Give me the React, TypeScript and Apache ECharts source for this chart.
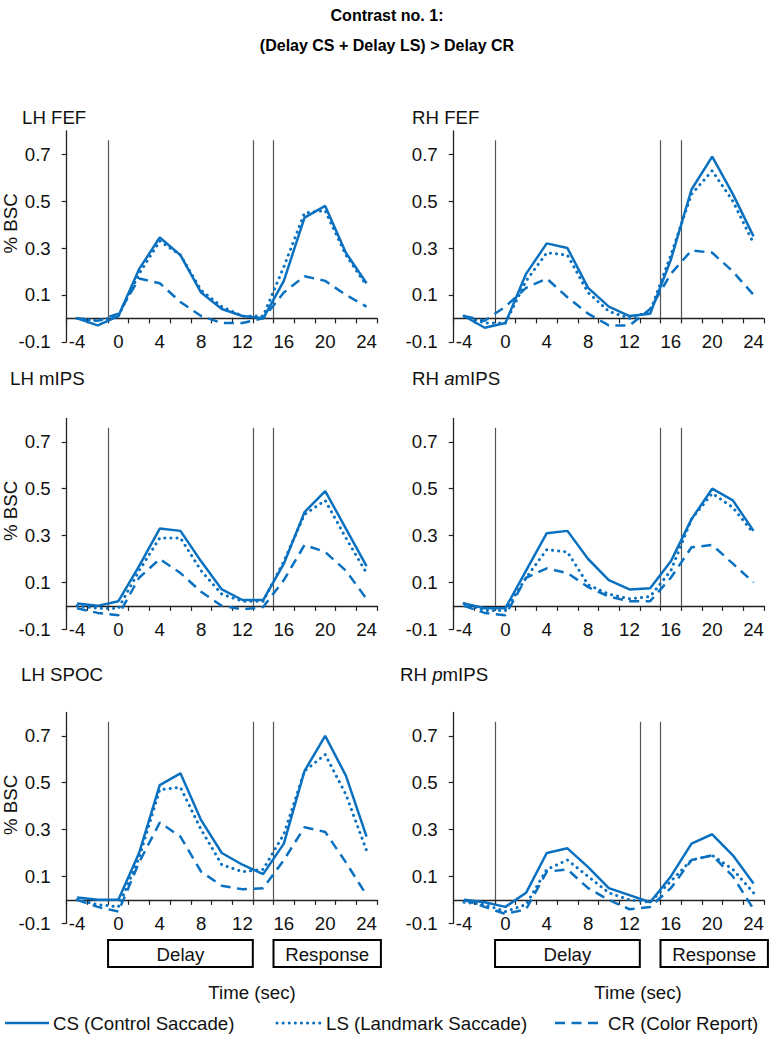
import React, { useEffect, useRef } from "react";
import * as echarts from "echarts";

// ---- data ----
const times = [-4, -2, 0, 2, 4, 6, 8, 10, 12, 14, 16, 18, 20, 22, 24];
const xTickValues = [-5, -3, -1, 1, 3, 5, 7, 9, 11, 13, 15, 17, 19, 21, 23, 25];
const xLabelValues = [-4, 0, 4, 8, 12, 16, 20, 24];
const yLabelValues = [-0.1, 0.1, 0.3, 0.5, 0.7];

const lhFefCS = [0.0, -0.03, 0.01, 0.21, 0.345, 0.27, 0.11, 0.04, 0.01, 0.0, 0.16, 0.43, 0.48, 0.28, 0.15];
const lhFefLS = [0.0, -0.01, 0.01, 0.19, 0.33, 0.27, 0.12, 0.05, 0.01, 0.01, 0.22, 0.45, 0.46, 0.27, 0.14];
const lhFefCR = [0.0, -0.01, 0.02, 0.17, 0.15, 0.07, 0.01, -0.02, -0.02, 0.0, 0.11, 0.18, 0.16, 0.1, 0.05];

const rhFefCS = [0.01, -0.04, -0.02, 0.19, 0.32, 0.3, 0.13, 0.05, 0.01, 0.02, 0.25, 0.55, 0.69, 0.53, 0.35];
const rhFefLS = [0.01, -0.02, -0.02, 0.16, 0.28, 0.27, 0.11, 0.03, 0.0, 0.03, 0.27, 0.53, 0.63, 0.5, 0.32];
const rhFefCR = [0.01, -0.01, 0.05, 0.13, 0.17, 0.09, 0.02, -0.03, -0.03, 0.04, 0.19, 0.29, 0.28, 0.2, 0.1];

const lhMipsCS = [0.01, 0.0, 0.02, 0.17, 0.33, 0.32, 0.19, 0.07, 0.025, 0.025, 0.18, 0.4, 0.49, 0.33, 0.17];
const lhMipsLS = [0.0, -0.01, -0.01, 0.15, 0.29, 0.29, 0.15, 0.05, 0.02, 0.02, 0.19, 0.39, 0.45, 0.29, 0.14];
const lhMipsCR = [-0.01, -0.03, -0.04, 0.12, 0.2, 0.14, 0.06, 0.0, -0.015, -0.005, 0.11, 0.26, 0.23, 0.15, 0.03];

const rhAmipsCS = [0.01, -0.01, -0.01, 0.15, 0.31, 0.32, 0.2, 0.11, 0.07, 0.075, 0.19, 0.37, 0.5, 0.45, 0.32];
const rhAmipsLS = [0.01, -0.02, -0.02, 0.12, 0.24, 0.23, 0.09, 0.05, 0.03, 0.04, 0.15, 0.37, 0.48, 0.42, 0.31];
const rhAmipsCR = [0.0, -0.03, -0.04, 0.12, 0.16, 0.14, 0.08, 0.04, 0.02, 0.02, 0.12, 0.25, 0.26, 0.18, 0.1];

const lhSpocCS = [0.01, 0.0, 0.0, 0.2, 0.49, 0.54, 0.34, 0.2, 0.15, 0.11, 0.24, 0.55, 0.7, 0.53, 0.27];
const lhSpocLS = [0.0, -0.02, -0.03, 0.18, 0.47, 0.48, 0.3, 0.15, 0.12, 0.13, 0.28, 0.55, 0.62, 0.45, 0.21];
const lhSpocCR = [0.0, -0.03, -0.05, 0.16, 0.33, 0.27, 0.12, 0.06, 0.045, 0.05, 0.17, 0.31, 0.29, 0.16, 0.02];

const rhPmipsCS = [0.0, -0.01, -0.03, 0.03, 0.2, 0.22, 0.14, 0.05, 0.02, -0.01, 0.1, 0.24, 0.28, 0.19, 0.07];
const rhPmipsLS = [-0.01, -0.02, -0.05, -0.02, 0.13, 0.17, 0.1, 0.03, 0.0, -0.01, 0.08, 0.17, 0.19, 0.13, 0.03];
const rhPmipsCR = [0.0, -0.03, -0.06, -0.04, 0.12, 0.13, 0.05, 0.0, -0.04, -0.03, 0.05, 0.17, 0.19, 0.1, -0.04];

const markersA = [-1, 13, 15];
const markersB = [-1, 15, 17];
const markerTop = 0.76;

const panelTitles = ["LH FEF", "RH FEF", "LH mIPS", "RH {i|a}mIPS", "LH SPOC", "RH {i|p}mIPS"];
const seriesNames = ["CS (Control Saccade)", "LS (Landmark Saccade)", "CR (Color Report)"];

const panels = [
  { cs: lhFefCS, ls: lhFefLS, cr: lhFefCR, marks: markersA },
  { cs: rhFefCS, ls: rhFefLS, cr: rhFefCR, marks: markersB },
  { cs: lhMipsCS, ls: lhMipsLS, cr: lhMipsCR, marks: markersA },
  { cs: rhAmipsCS, ls: rhAmipsLS, cr: rhAmipsCR, marks: markersB },
  { cs: lhSpocCS, ls: lhSpocLS, cr: lhSpocCR, marks: markersA },
  { cs: rhPmipsCS, ls: rhPmipsLS, cr: rhPmipsCR, marks: markersA },
];

// ---- layout ----
const W = 774;
const H = 1038;
const BLUE = "#0a70c0";
const FONT = "'Liberation Sans', Arial, sans-serif";
const FS = 18.67;
const colLeft = [66.7, 453.7];
const gridW = 310.2;
const rowTop = [130.9, 418.4, 712.4];
const gridH = 210.9;
const titlePos = [
  [22, 117],
  [412, 117],
  [10, 378],
  [412, 378],
  [21, 674],
  [400, 674],
];

const solidStyle = { color: BLUE, width: 2.5, type: "solid" as const };
const dottedStyle = { color: BLUE, width: 3, type: [0.1, 6], cap: "round" as const };
const dashedStyle = { color: BLUE, width: 2.5, type: [10, 6.5], cap: "butt" as const };

function px(col: number, t: number) {
  return colLeft[col] + ((t + 5) / 30) * gridW;
}

function buildOption() {
  const grid: any[] = [];
  const xAxis: any[] = [];
  const yAxis: any[] = [];
  const series: any[] = [];
  const graphic: any[] = [];
  const axisColor = "#222";

  panels.forEach((p, i) => {
    const col = i % 2;
    const row = Math.floor(i / 2);
    grid.push({ left: colLeft[col], top: rowTop[row], width: gridW, height: gridH, containLabel: false });
    xAxis.push({
      gridIndex: i,
      type: "value",
      min: -5,
      max: 25,
      axisLine: { show: true, onZero: true, lineStyle: { color: axisColor, width: 1.3 } },
      axisTick: { show: true, customValues: xTickValues, length: 5, inside: false, lineStyle: { color: axisColor, width: 1.2 } },
      axisLabel: { customValues: xLabelValues, margin: -9.5, fontSize: FS, fontFamily: FONT, color: "#111" },
      splitLine: { show: false },
    });
    yAxis.push({
      gridIndex: i,
      type: "value",
      min: -0.1,
      max: 0.8,
      axisLine: { show: true, onZero: false, lineStyle: { color: axisColor, width: 1.3 } },
      axisTick: { show: true, customValues: yLabelValues, length: 5, inside: false, lineStyle: { color: axisColor, width: 1.2 } },
      axisLabel: {
        customValues: yLabelValues,
        margin: 16,
        fontSize: FS,
        fontFamily: FONT,
        color: "#111",
        formatter: (v: number) => v.toFixed(1),
      },
      splitLine: { show: false },
    });
    const mk = (vals: number[]) => times.map((t, j) => [t, vals[j]]);
    series.push({
      name: seriesNames[0],
      type: "line",
      xAxisIndex: i,
      yAxisIndex: i,
      data: mk(p.cs),
      symbol: "none",
      lineStyle: solidStyle,
      z: 5,
      markLine: {
        silent: true,
        symbol: "none",
        label: { show: false },
        lineStyle: { color: "#555", width: 1.2, type: "solid" },
        data: p.marks.map((m) => [{ coord: [m, 0] }, { coord: [m, markerTop] }]),
        z: 1,
      },
    });
    series.push({
      name: seriesNames[1],
      type: "line",
      xAxisIndex: i,
      yAxisIndex: i,
      data: mk(p.ls),
      symbol: "none",
      lineStyle: dottedStyle,
      z: 4,
    });
    series.push({
      name: seriesNames[2],
      type: "line",
      xAxisIndex: i,
      yAxisIndex: i,
      data: mk(p.cr),
      symbol: "none",
      lineStyle: dashedStyle,
      z: 3,
    });

    graphic.push({
      type: "text",
      x: titlePos[i][0],
      y: titlePos[i][1],
      style: {
        text: panelTitles[i],
        font: `${FS}px ${FONT}`,
        fill: "#111",
        align: "left",
        verticalAlign: "middle",
        rich: { i: { fontStyle: "italic", fontSize: FS, fontFamily: FONT, fill: "#111" } },
      },
    });
    if (col === 0) {
      const y0 = rowTop[row] + (0.8 / 0.9) * gridH;
      graphic.push({
        type: "text",
        x: 10,
        y: y0 - 95,
        rotation: Math.PI / 2,
        style: {
          text: "% BSC",
          font: `${FS}px ${FONT}`,
          fill: "#111",
          align: "center",
          verticalAlign: "middle",
        },
      });
    }
  });

  // main title
  graphic.push({
    type: "text",
    x: W / 2,
    y: 15,
    style: { text: "Contrast no. 1:", font: `bold 16px ${FONT}`, fill: "#000", align: "center", verticalAlign: "middle" },
  });
  graphic.push({
    type: "text",
    x: W / 2,
    y: 45,
    style: {
      text: "(Delay CS + Delay LS) > Delay CR",
      font: `bold 16px ${FONT}`,
      fill: "#000",
      align: "center",
      verticalAlign: "middle",
    },
  });

  // Delay / Response boxes and Time labels
  [0, 1].forEach((col) => {
    const boxes = [
      { text: "Delay", x1: px(col, -1), x2: px(col, 13) },
      { text: "Response", x1: px(col, 15), x2: colLeft[col] + gridW + 4 },
    ];
    boxes.forEach((b) => {
      graphic.push({
        type: "rect",
        shape: { x: b.x1, y: 940, width: b.x2 - b.x1, height: 27 },
        style: { fill: "#fff", stroke: "#000", lineWidth: 2 },
      });
      graphic.push({
        type: "text",
        x: (b.x1 + b.x2) / 2,
        y: 954,
        style: { text: b.text, font: `${FS}px ${FONT}`, fill: "#111", align: "center", verticalAlign: "middle" },
      });
    });
    graphic.push({
      type: "text",
      x: col === 0 ? 252 : 638,
      y: 992,
      style: { text: "Time (sec)", font: `${FS}px ${FONT}`, fill: "#111", align: "center", verticalAlign: "middle" },
    });
  });

  // legend
  const legendY = 1023;
  const legendItems = [
    { x1: 5, x2: 49, tx: 53, style: { lineDash: null as any, lineCap: "butt", lineWidth: 2.5 } },
    { x1: 277, x2: 320, tx: 326, style: { lineDash: [0.1, 6], lineCap: "round", lineWidth: 3 } },
    { x1: 555, x2: 603, tx: 608, style: { lineDash: [10, 6.5], lineCap: "butt", lineWidth: 2.5 } },
  ];
  legendItems.forEach((it, k) => {
    graphic.push({
      type: "line",
      shape: { x1: it.x1, y1: legendY, x2: it.x2, y2: legendY },
      style: { stroke: BLUE, ...it.style },
    });
    graphic.push({
      type: "text",
      x: it.tx,
      y: legendY,
      style: { text: seriesNames[k], font: `${FS}px ${FONT}`, fill: "#111", align: "left", verticalAlign: "middle" },
    });
  });

  return {
    animation: false,
    backgroundColor: "#fff",
    textStyle: { fontFamily: FONT },
    grid,
    xAxis,
    yAxis,
    series,
    graphic,
  };
}

export default function App() {
  const ref = useRef<HTMLDivElement>(null);
  useEffect(() => {
    if (!ref.current) return;
    const chart = echarts.init(ref.current, undefined, { renderer: "svg", width: W, height: H });
    chart.setOption(buildOption() as any);
    return () => chart.dispose();
  }, []);
  return (
    <div
      ref={ref}
      style={{ position: "absolute", left: 0, top: 0, width: W, height: H, background: "#fff" }}
    />
  );
}
